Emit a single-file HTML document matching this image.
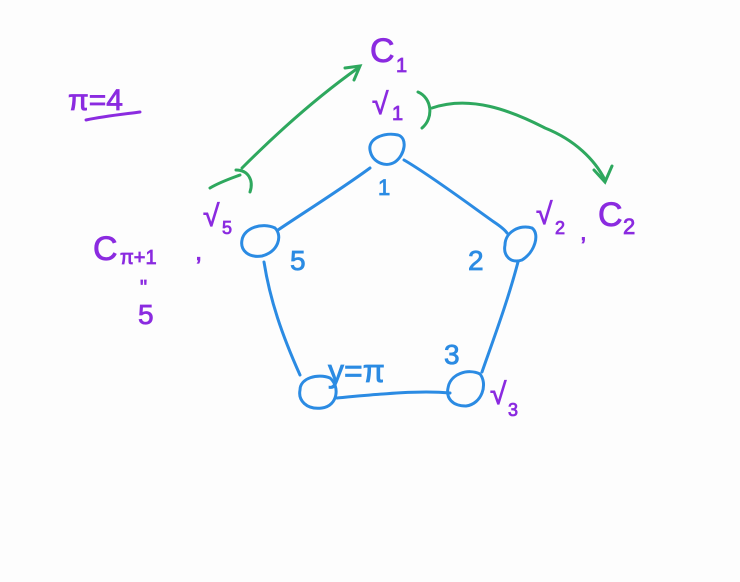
<!DOCTYPE html>
<html><head><meta charset="utf-8"><style>
html,body{margin:0;padding:0;background:#fdfdfd;}
svg{display:block;}
text{font-family:"Liberation Sans",sans-serif;}
</style></head><body>
<svg width="740" height="582" viewBox="0 0 740 582" xmlns="http://www.w3.org/2000/svg">
<rect width="740" height="582" fill="#fdfdfd"/>
<g fill="none" stroke="#2b8be3" stroke-width="3" stroke-linecap="round">
<path d="M370,150 C368,138 385,132 398,135 C408,138 405,155 395,162 C385,168 372,162 370,150 Z"/>
<path d="M505,245 C505,232 520,224 532,228 C540,234 535,252 522,260 C510,264 503,255 505,245 Z"/>
<path d="M242,240 C244,228 262,222 275,228 C283,236 278,252 262,256 C248,258 240,250 242,240 Z"/>
<path d="M300,390 C300,378 318,373 330,378 C340,386 338,406 322,408 C306,410 298,400 300,390 Z"/>
<path d="M448,388 C450,374 468,368 480,374 C488,384 482,404 466,406 C452,406 446,398 448,388 Z"/>
<path d="M404,160 C430,175 470,205 494,222 C500,226 505,230 507,233"/>
<path d="M370,168 C340,190 300,215 278,230"/>
<path d="M264,262 C270,300 282,335 300,375"/>
<path d="M337,398 C380,394 420,390 450,393"/>
<path d="M482,372 C495,335 508,300 518,262"/>
</g>
<g fill="#2b8be3" stroke="#2b8be3" stroke-width="0.8">
<text x="378" y="195" font-size="22">1</text>
<text x="290" y="270" font-size="28">5</text>
<text x="468" y="270" font-size="28">2</text>
<text x="444" y="364" font-size="28">3</text>
<text x="328" y="382" font-size="32">y=π</text>
</g>
<g fill="#8b2be0" stroke="#8b2be0" stroke-width="0.8">
<text x="370" y="62" font-size="34">C</text><text x="396" y="72" font-size="20">1</text>
<text x="372" y="114" font-size="30">√</text><text x="392" y="120" font-size="20">1</text>
<text x="536" y="224" font-size="30">√</text><text x="555" y="234" font-size="18">2</text>
<text x="580" y="240" font-size="24">,</text>
<text x="598" y="226" font-size="34">C</text><text x="623" y="234" font-size="22">2</text>
<text x="490" y="404" font-size="30">√</text><text x="508" y="416" font-size="18">3</text>
<text x="93" y="260" font-size="34">C</text><text x="120" y="264" font-size="20">π+1</text>
<text x="195" y="260" font-size="26">,</text>
<text x="203" y="226" font-size="30">√</text><text x="222" y="234" font-size="18">5</text>
<text x="140" y="294" font-size="20">"</text>
<text x="138" y="324" font-size="28">5</text>
<text x="68" y="110" font-size="30">π=4</text>
</g>
<path d="M86,120 C105,116 125,114 140,112" stroke="#8b2be0" stroke-width="3" fill="none" stroke-linecap="round"/>
<g fill="none" stroke="#2ea85e" stroke-width="3" stroke-linecap="round">
<path d="M210,188 C220,182 232,178 240,175"/>
<path d="M236,170 C248,170 254,180 250,192"/>
<path d="M242,168 C280,130 320,95 358,68"/>
<path d="M345,68 L360,66 L354,80"/>
<path d="M418,92 C432,98 434,118 422,128"/>
<path d="M432,108 C470,95 510,110 545,128 C575,140 595,160 605,180"/>
<path d="M594,170 L605,182 L612,166"/>
</g>
</svg>
</body></html>
